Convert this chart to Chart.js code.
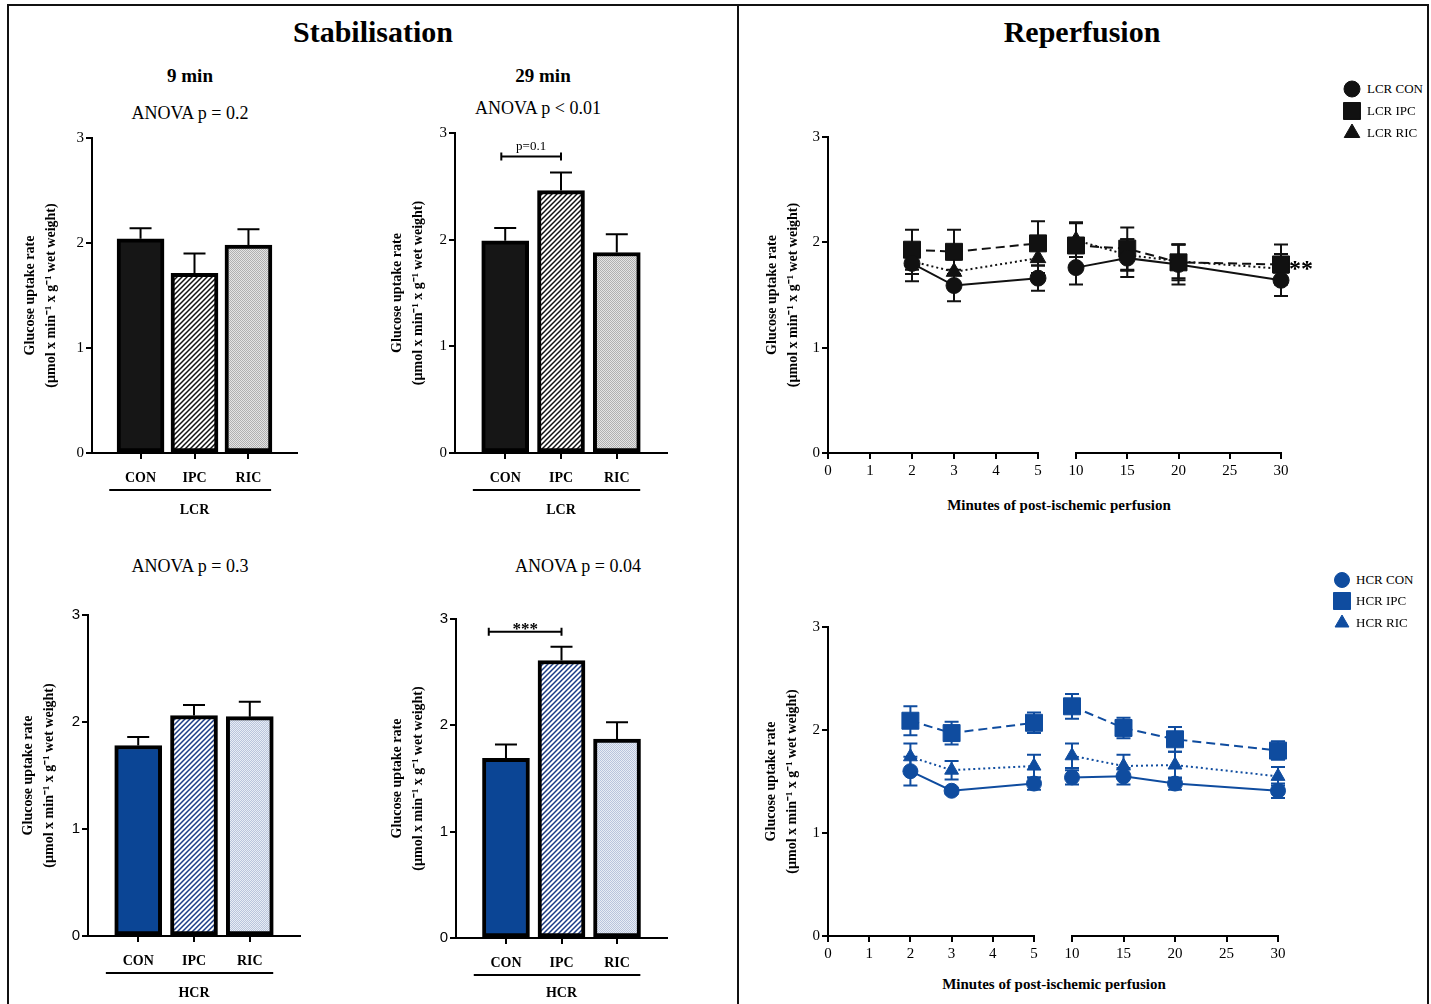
<!DOCTYPE html>
<html>
<head>
<meta charset="utf-8">
<script src="https://cdn.jsdelivr.net/npm/chart.js@4.4.0/dist/chart.umd.min.js"></script>
<style>
  body { margin:0; width:1431px; height:1004px; background:#fff; position:relative; overflow:hidden;
         font-family:"Liberation Serif","Times New Roman",serif; color:#000; }
  canvas { position:absolute; }
  .frame { position:absolute; border:2px solid #111; }
  .t { position:absolute; transform:translate(-50%,-50%); white-space:nowrap; }
  .big { font-size:30px; font-weight:bold; }
  .sub { font-size:19px; font-weight:bold; }
  .anova { font-size:18px; }
  .xt { font-size:15px; font-weight:bold; }
  .leg { position:absolute; font-size:13px; white-space:nowrap; transform:translateY(-50%); }
</style>
</head>
<body>
<div class="frame" style="left:7px;top:4px;width:1418px;height:1020px;"></div>
<div style="position:absolute;left:737px;top:4px;width:2px;height:1004px;background:#111"></div>

<div class="t big" style="left:373px;top:32px">Stabilisation</div>
<div class="t big" style="left:1082px;top:32px">Reperfusion</div>
<div class="t sub" style="left:190px;top:76px">9 min</div>
<div class="t sub" style="left:543px;top:76px">29 min</div>
<div class="t anova" style="left:190px;top:113px">ANOVA p = 0.2</div>
<div class="t anova" style="left:538px;top:108px">ANOVA p &lt; 0.01</div>
<div class="t anova" style="left:190px;top:566px">ANOVA p = 0.3</div>
<div class="t anova" style="left:578px;top:566px">ANOVA p = 0.04</div>
<div class="t xt" style="left:1059px;top:505px">Minutes of post-ischemic perfusion</div>
<div class="t xt" style="left:1054px;top:984px">Minutes of post-ischemic perfusion</div>

<canvas id="b1"></canvas>
<canvas id="b2"></canvas>
<canvas id="b3"></canvas>
<canvas id="b4"></canvas>
<canvas id="l1a"></canvas>
<canvas id="l1b"></canvas>
<canvas id="l2a"></canvas>
<canvas id="l2b"></canvas>

<script>
const SERIF = '"Liberation Serif", "Times New Roman", serif';
const SANS = '"Liberation Sans", Arial, sans-serif';
Chart.defaults.font.family = SERIF;
Chart.defaults.color = '#000';

// bar groups
const groups = ['CON', 'IPC', 'RIC'];

// stabilisation, mean and SEM
const lcr9 = [2.04, 1.71, 1.98];
const lcr9Err = [0.10, 0.19, 0.15];
const lcr29 = [1.99, 2.46, 1.88];
const lcr29Err = [0.12, 0.17, 0.17];
const hcr9 = [1.78, 2.06, 2.05];
const hcr9Err = [0.08, 0.10, 0.14];
const hcr29 = [1.69, 2.61, 1.87];
const hcr29Err = [0.13, 0.13, 0.16];

// reperfusion time points (minutes)
const minutes = [2, 3, 5, 10, 15, 20, 30];
const lcrCon = [1.80, 1.59, 1.66, 1.76, 1.85, 1.79, 1.64];
const lcrConErr = [0.17, 0.15, 0.12, 0.16, 0.18, 0.19, 0.15];
const lcrIpc = [1.93, 1.91, 1.99, 1.97, 1.94, 1.81, 1.79];
const lcrIpcErr = [0.19, 0.21, 0.21, 0.22, 0.20, 0.17, 0.19];
const lcrRic = [1.82, 1.72, 1.85, 2.02, 1.88, 1.82, 1.75];
const lcrRicErr = [0.12, 0.12, 0.14, 0.16, 0.15, 0.16, 0.14];

const hcrCon = [1.60, 1.41, 1.48, 1.54, 1.55, 1.48, 1.41];
const hcrConErr = [0.14, 0.03, 0.06, 0.07, 0.08, 0.06, 0.07];
const hcrIpc = [2.09, 1.97, 2.07, 2.23, 2.02, 1.91, 1.80];
const hcrIpcErr = [0.14, 0.11, 0.10, 0.12, 0.10, 0.12, 0.09];
const hcrRic = [1.74, 1.61, 1.65, 1.75, 1.65, 1.66, 1.55];
const hcrRicErr = [0.13, 0.09, 0.11, 0.12, 0.11, 0.13, 0.09];

const BLUE = '#0f4c9f';
const yTitle = ['Glucose uptake rate', '(\u00b5mol x min\u207b\u00b9 x g\u207b\u00b9 wet weight)'];

// fill patterns
function hatch(ink) {
  const c = document.createElement('canvas');
  c.width = 5; c.height = 5;
  const g = c.getContext('2d');
  g.fillStyle = '#fff'; g.fillRect(0, 0, 5, 5);
  g.strokeStyle = ink; g.lineWidth = 1.5;
  g.beginPath();
  g.moveTo(0, 5); g.lineTo(5, 0);
  g.moveTo(-1, 1); g.lineTo(1, -1);
  g.moveTo(4, 6); g.lineTo(6, 4);
  g.stroke();
  return g.createPattern(c, 'repeat');
}
function stipple(a, b) {
  const c = document.createElement('canvas');
  c.width = 2; c.height = 2;
  const g = c.getContext('2d');
  g.fillStyle = a; g.fillRect(0, 0, 2, 2);
  g.fillStyle = b; g.fillRect(0, 0, 1, 1); g.fillRect(1, 1, 1, 1);
  return g.createPattern(c, 'repeat');
}
const lcrFills = ['#161616', hatch('#111'), stipple('#e4e4e4', '#b0b0b0')];
const hcrFills = ['#0b4595', hatch('#1b3c86'), stipple('#e8edf5', '#b9c4dc')];

// error bars: bars get the upper half only
const errorBars = {
  id: 'errorBars',
  beforeDatasetsDraw(chart) { if (chart.config.type === 'line') drawErr(chart); },
  afterDatasetsDraw(chart) { if (chart.config.type === 'bar') drawErr(chart); }
};
function drawErr(chart) {
  const ctx = chart.ctx, ys = chart.scales.y;
  chart.data.datasets.forEach((ds, i) => {
    if (!ds.errs) return;
    const meta = chart.getDatasetMeta(i);
    const cap = ds.cap || 7;
    ctx.save();
    ctx.strokeStyle = ds.errColor || '#000';
    ctx.lineWidth = 2;
    ctx.setLineDash([]);
    meta.data.forEach((el, j) => {
      const v = ds.data[j].y, e = ds.errs[j];
      const hi = ys.getPixelForValue(v + e);
      const lo = ds.upOnly ? el.y : ys.getPixelForValue(v - e);
      ctx.beginPath();
      ctx.moveTo(el.x, lo); ctx.lineTo(el.x, hi);
      ctx.moveTo(el.x - cap, hi); ctx.lineTo(el.x + cap, hi);
      if (!ds.upOnly) { ctx.moveTo(el.x - cap, lo); ctx.lineTo(el.x + cap, lo); }
      ctx.stroke();
    });
    ctx.restore();
  });
}

// brackets, group underline and star notes
const marks = {
  id: 'marks',
  afterDraw(chart, args, opts) {
    const ctx = chart.ctx, xs = chart.scales.x, ys = chart.scales.y;
    (opts.items || []).forEach(m => {
      ctx.save();
      ctx.strokeStyle = '#000'; ctx.fillStyle = '#000'; ctx.lineWidth = 2;
      if (m.type === 'bracket') {
        const x1 = xs.getPixelForValue(m.from), x2 = xs.getPixelForValue(m.to);
        const y = ys.getPixelForValue(m.y);
        ctx.beginPath();
        ctx.moveTo(x1, y); ctx.lineTo(x2, y);
        ctx.moveTo(x1, y - 4); ctx.lineTo(x1, y + 4);
        ctx.moveTo(x2, y - 4); ctx.lineTo(x2, y + 4);
        ctx.stroke();
        ctx.font = m.font; ctx.textAlign = 'center'; ctx.textBaseline = 'alphabetic';
        ctx.fillText(m.text, (x1 + x2) / 2, y - m.lift);
      } else if (m.type === 'underline') {
        const y = chart.chartArea.bottom + m.dy;
        ctx.beginPath();
        ctx.moveTo(xs.getPixelForValue(m.from), y);
        ctx.lineTo(xs.getPixelForValue(m.to), y);
        ctx.stroke();
      } else if (m.type === 'text') {
        ctx.font = m.font; ctx.textAlign = 'center'; ctx.textBaseline = 'middle';
        ctx.fillText(m.text, xs.getPixelForValue(m.x) + m.dx, ys.getPixelForValue(m.y) + m.dy);
      }
      ctx.restore();
    });
  }
};

// put a canvas so that its chart area lands on l,t,r,b
function mount(id, s) {
  const cv = document.getElementById(id);
  const left = s.l - s.yW - s.pl;
  const top = s.t - s.pt;
  cv.width = s.r + s.pr - left;
  cv.height = s.b + s.xH - top;
  cv.style.left = left + 'px';
  cv.style.top = top + 'px';
  return cv;
}

const axisLine = { drawOnChartArea: false, color: '#000', lineWidth: 2, tickLength: 6 };
const axisBorder = { color: '#000', width: 2 };

function barChart(id, s, vals, errs, fills, group, tickFam, items) {
  const cv = mount(id, s);
  return new Chart(cv, {
    type: 'bar',
    data: {
      datasets: [{
        data: vals.map((v, i) => ({ x: i, y: v })),
        errs: errs, upOnly: true, cap: 11,
        backgroundColor: fills,
        borderColor: '#000',
        borderWidth: 4,
        borderSkipped: false,
        barThickness: 47
      }]
    },
    options: {
      responsive: false, animation: false,
      layout: { padding: { left: s.pl, top: s.pt, right: s.pr, bottom: 0 } },
      plugins: { legend: { display: false }, tooltip: { enabled: false }, marks: { items: items } },
      scales: {
        x: {
          type: 'linear', min: -0.9, max: 2.9, offset: false,
          afterBuildTicks: sc => { sc.ticks = groups.map((g, i) => ({ value: i })); },
          afterFit: sc => { sc.height = s.xH; },
          ticks: { callback: v => groups[v], font: { size: 14, weight: 'bold' }, padding: 11, maxRotation: 0 },
          grid: { ...axisLine, offset: false }, border: axisBorder,
          title: { display: true, text: group, font: { size: 14, weight: 'bold' }, padding: { top: 0, bottom: 4 } }
        },
        y: {
          min: 0, max: 3,
          afterFit: sc => { sc.width = s.yW; },
          ticks: { stepSize: 1, font: { family: tickFam, size: 15 }, padding: 2 },
          grid: axisLine, border: axisBorder,
          title: { display: true, text: yTitle, font: { size: 14, weight: 'bold', lineHeight: 1.5 }, padding: { top: 4, bottom: 0 } }
        }
      }
    },
    plugins: [errorBars, marks]
  });
}

function lineChart(id, s, lo, hi, step, series, color, showY, items) {
  const cv = mount(id, s);
  const keep = minutes.map((m, j) => j).filter(j => minutes[j] >= lo && minutes[j] <= hi);
  return new Chart(cv, {
    type: 'line',
    data: {
      datasets: series.map(se => ({
        label: se.label,
        data: keep.map(j => ({ x: minutes[j], y: se.vals[j] })),
        errs: keep.map(j => se.errs[j]),
        errColor: color, cap: 7,
        borderColor: color, backgroundColor: color, borderWidth: 2, borderDash: se.dash,
        pointStyle: se.shape, pointRadius: se.r, pointBackgroundColor: color,
        pointBorderColor: color, pointBorderWidth: 1, clip: false
      }))
    },
    options: {
      responsive: false, animation: false,
      layout: { padding: { left: s.pl, top: s.pt, right: s.pr, bottom: 0 } },
      plugins: { legend: { display: false }, tooltip: { enabled: false }, marks: { items: items } },
      scales: {
        x: {
          type: 'linear', min: lo === 2 ? 0 : lo, max: hi,
          afterFit: sc => { sc.height = s.xH; },
          ticks: { stepSize: step, font: { size: 15 }, padding: 3, maxRotation: 0 },
          grid: axisLine, border: axisBorder
        },
        y: {
          display: showY, min: 0, max: 3,
          afterFit: sc => { sc.width = s.yW; },
          ticks: { stepSize: 1, font: { size: 15 }, padding: 2 },
          grid: axisLine, border: axisBorder,
          title: { display: true, text: yTitle, font: { size: 14, weight: 'bold', lineHeight: 1.5 }, padding: { top: 4, bottom: 0 } }
        }
      }
    },
    plugins: [errorBars, marks]
  });
}

const under = { type: 'underline', from: -0.58, to: 2.42, dy: 37 };

barChart('b1', { l: 92, t: 138, r: 297, b: 453, yW: 76, pl: 0, pt: 20, pr: 12, xH: 70 },
  lcr9, lcr9Err, lcrFills, 'LCR', SERIF, [under]);
barChart('b2', { l: 455, t: 133, r: 667, b: 453, yW: 72, pl: 0, pt: 20, pr: 12, xH: 70 },
  lcr29, lcr29Err, lcrFills, 'LCR', SERIF,
  [under, { type: 'bracket', from: -0.07, to: 1, y: 2.78, text: 'p=0.1', font: '13px ' + SERIF, lift: 6 }]);
barChart('b3', { l: 88, t: 615, r: 300, b: 936, yW: 74, pl: 0, pt: 20, pr: 12, xH: 70 },
  hcr9, hcr9Err, hcrFills, 'HCR', SANS, [under]);
barChart('b4', { l: 456, t: 619, r: 667, b: 938, yW: 73, pl: 0, pt: 20, pr: 12, xH: 68 },
  hcr29, hcr29Err, hcrFills, 'HCR', SANS,
  [under, { type: 'bracket', from: -0.31, to: 1, y: 2.88, text: '***', font: 'bold 17px ' + SERIF, lift: -2 }]);

const lcrSeries = [
  { label: 'LCR CON', vals: lcrCon, errs: lcrConErr, shape: 'circle', r: 8, dash: [] },
  { label: 'LCR IPC', vals: lcrIpc, errs: lcrIpcErr, shape: 'rect', r: 12, dash: [9, 5] },
  { label: 'LCR RIC', vals: lcrRic, errs: lcrRicErr, shape: 'triangle', r: 9, dash: [2, 3] }
];
const hcrSeries = [
  { label: 'HCR CON', vals: hcrCon, errs: hcrConErr, shape: 'circle', r: 7.5, dash: [] },
  { label: 'HCR IPC', vals: hcrIpc, errs: hcrIpcErr, shape: 'rect', r: 12, dash: [9, 5] },
  { label: 'HCR RIC', vals: hcrRic, errs: hcrRicErr, shape: 'triangle', r: 8, dash: [2, 3] }
];

lineChart('l1a', { l: 828, t: 137, r: 1039, b: 453, yW: 70, pl: 0, pt: 20, pr: 12, xH: 30 },
  2, 5, 1, lcrSeries, '#111', true, []);
lineChart('l1b', { l: 1076, t: 137, r: 1281, b: 453, yW: 0, pl: 14, pt: 20, pr: 50, xH: 30 },
  10, 30, 5, lcrSeries, '#111', false,
  [{ type: 'text', x: 30, y: 1.78, dx: 20, dy: 4, text: '**', font: 'bold 24px ' + SERIF }]);
lineChart('l2a', { l: 828, t: 627, r: 1035, b: 936, yW: 71, pl: 0, pt: 20, pr: 12, xH: 30 },
  2, 5, 1, hcrSeries, BLUE, true, []);
lineChart('l2b', { l: 1072, t: 627, r: 1278, b: 936, yW: 0, pl: 14, pt: 20, pr: 30, xH: 30 },
  10, 30, 5, hcrSeries, BLUE, false, []);

// legends: marker drawn with Chart.js helper, label as text
function legend(series, color, x, ys, tx) {
  series.forEach((se, i) => {
    const c = document.createElement('canvas');
    c.width = 24; c.height = 24;
    c.style.left = (x - 12) + 'px'; c.style.top = (ys[i] - 12) + 'px';
    document.body.appendChild(c);
    const g = c.getContext('2d');
    g.fillStyle = color; g.strokeStyle = color; g.lineWidth = 1;
    Chart.helpers.drawPoint(g, { pointStyle: se.shape, radius: se.r, borderWidth: 1 }, 12, 12);
    const d = document.createElement('div');
    d.className = 'leg';
    d.style.left = tx + 'px'; d.style.top = ys[i] + 'px';
    d.textContent = se.label;
    document.body.appendChild(d);
  });
}
legend(lcrSeries, '#111', 1352, [89, 111, 133], 1367);
legend(hcrSeries, BLUE, 1342, [580, 601, 623], 1356);
</script>
</body>
</html>
